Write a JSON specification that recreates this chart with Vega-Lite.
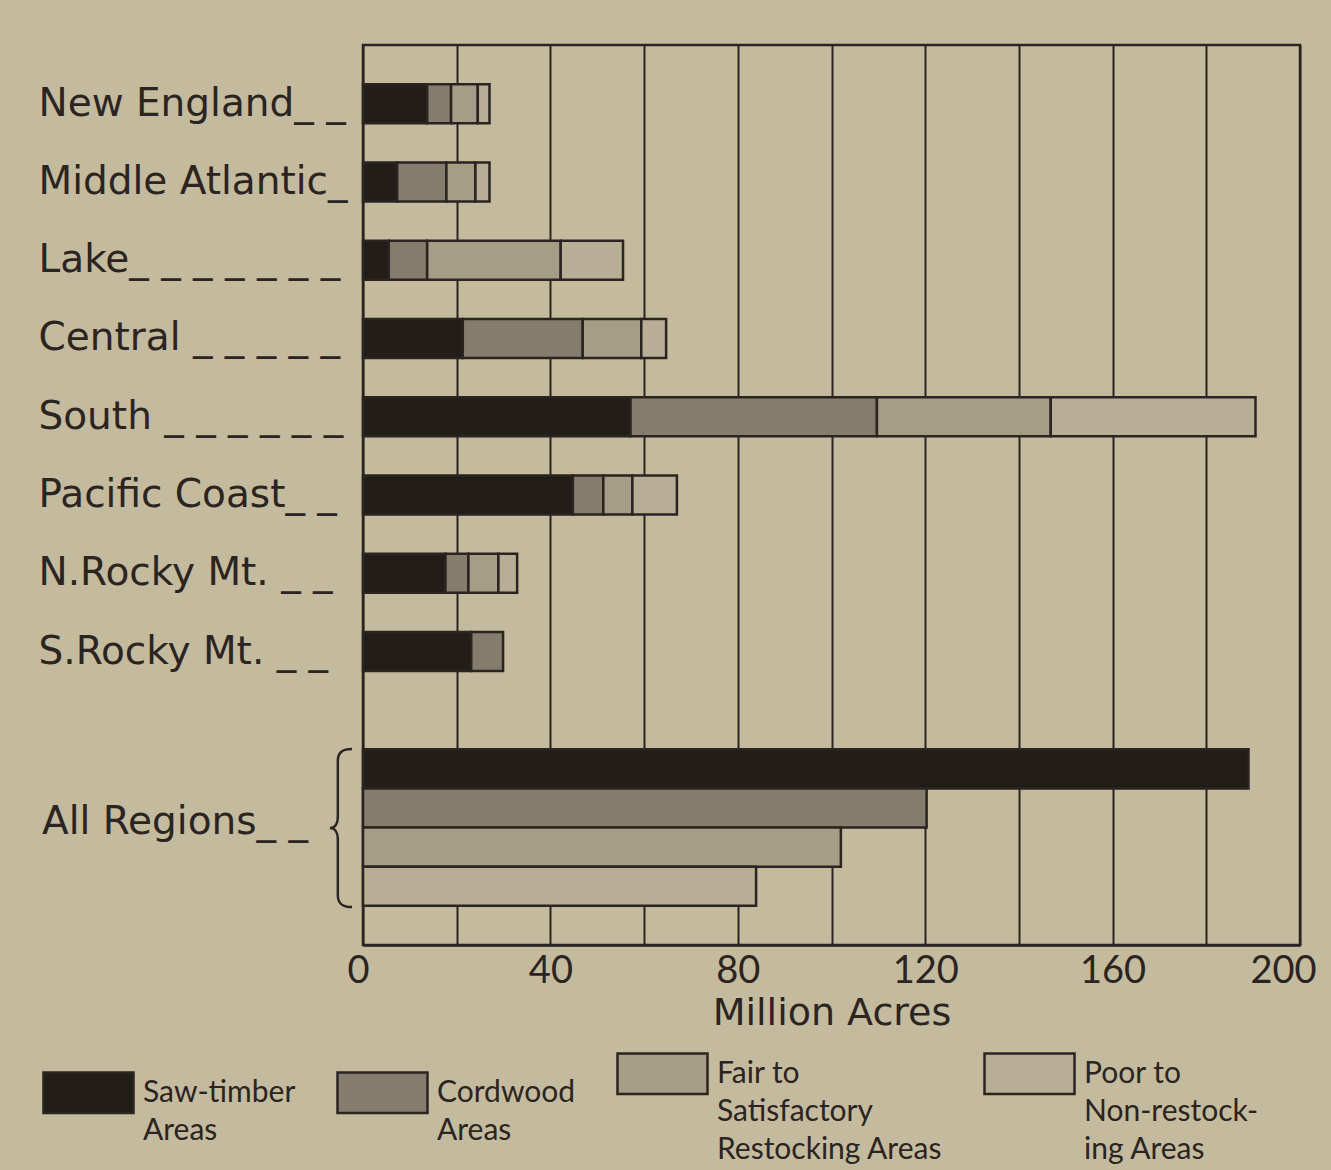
{
  "$schema": "https://vega.github.io/schema/vega-lite/v6.json",
  "width": 937,
  "height": 900,
  "autosize": "none",
  "padding": {"left": 363, "top": 45, "right": 31, "bottom": 225},
  "background": "#c4ba9e",
  "config": {
    "font": "DejaVu Sans",
    "view": {"stroke": "#2b2421", "strokeWidth": 2.5},
    "text": {"color": "#2b2421"},
    "style": {"guide-label": {"lineHeight": 38}}
  },
  "layer": [
    {
      "data": {
        "values": [
          {"row": "New England", "type": "Saw-timber Areas", "acres": 13.7},
          {"row": "New England", "type": "Cordwood Areas", "acres": 5.1},
          {"row": "New England", "type": "Fair to Satisfactory Restocking Areas", "acres": 5.7},
          {"row": "New England", "type": "Poor to Non-restocking Areas", "acres": 2.5},
          {"row": "Middle Atlantic", "type": "Saw-timber Areas", "acres": 7.3},
          {"row": "Middle Atlantic", "type": "Cordwood Areas", "acres": 10.5},
          {"row": "Middle Atlantic", "type": "Fair to Satisfactory Restocking Areas", "acres": 6.2},
          {"row": "Middle Atlantic", "type": "Poor to Non-restocking Areas", "acres": 3.0},
          {"row": "Lake", "type": "Saw-timber Areas", "acres": 5.5},
          {"row": "Lake", "type": "Cordwood Areas", "acres": 8.2},
          {"row": "Lake", "type": "Fair to Satisfactory Restocking Areas", "acres": 28.5},
          {"row": "Lake", "type": "Poor to Non-restocking Areas", "acres": 13.3},
          {"row": "Central", "type": "Saw-timber Areas", "acres": 21.3},
          {"row": "Central", "type": "Cordwood Areas", "acres": 25.6},
          {"row": "Central", "type": "Fair to Satisfactory Restocking Areas", "acres": 12.5},
          {"row": "Central", "type": "Poor to Non-restocking Areas", "acres": 5.3},
          {"row": "South", "type": "Saw-timber Areas", "acres": 57.1},
          {"row": "South", "type": "Cordwood Areas", "acres": 52.6},
          {"row": "South", "type": "Fair to Satisfactory Restocking Areas", "acres": 37.1},
          {"row": "South", "type": "Poor to Non-restocking Areas", "acres": 43.7},
          {"row": "Pacific Coast", "type": "Saw-timber Areas", "acres": 44.8},
          {"row": "Pacific Coast", "type": "Cordwood Areas", "acres": 6.5},
          {"row": "Pacific Coast", "type": "Fair to Satisfactory Restocking Areas", "acres": 6.2},
          {"row": "Pacific Coast", "type": "Poor to Non-restocking Areas", "acres": 9.5},
          {"row": "N. Rocky Mt.", "type": "Saw-timber Areas", "acres": 17.6},
          {"row": "N. Rocky Mt.", "type": "Cordwood Areas", "acres": 4.9},
          {"row": "N. Rocky Mt.", "type": "Fair to Satisfactory Restocking Areas", "acres": 6.4},
          {"row": "N. Rocky Mt.", "type": "Poor to Non-restocking Areas", "acres": 4.0},
          {"row": "S. Rocky Mt.", "type": "Saw-timber Areas", "acres": 23.1},
          {"row": "S. Rocky Mt.", "type": "Cordwood Areas", "acres": 6.8},
          {"row": "All Regions: Saw-timber", "type": "Saw-timber Areas", "acres": 189.0},
          {"row": "All Regions: Cordwood", "type": "Cordwood Areas", "acres": 120.3},
          {"row": "All Regions: Fair", "type": "Fair to Satisfactory Restocking Areas", "acres": 102.0},
          {"row": "All Regions: Poor", "type": "Poor to Non-restocking Areas", "acres": 83.9}
        ]
      },
      "transform": [
        {"calculate": "indexof(['Saw-timber Areas', 'Cordwood Areas', 'Fair to Satisfactory Restocking Areas', 'Poor to Non-restocking Areas'], datum.type)", "as": "stack_order"}
      ],
      "mark": {"type": "bar", "stroke": "#2b2421", "strokeWidth": 2.5},
      "encoding": {
        "x": {
          "field": "acres",
          "type": "quantitative",
          "stack": "zero",
          "scale": {"domain": [0, 200], "nice": false},
          "axis": {
            "values": [0, 20, 40, 60, 80, 100, 120, 140, 160, 180, 200],
            "labelExpr": "datum.value % 40 == 0 ? datum.label : ''",
            "grid": true,
            "gridColor": "#2b2421",
            "gridWidth": 2,
            "gridOpacity": 1,
            "ticks": false,
            "domainColor": "#2b2421",
            "domainWidth": 2.5,
            "labelFont": "Lato",
            "labelFontSize": 38,
            "labelColor": "#2b2421",
            "labelPadding": 7,
            "labelFlush": true,
            "labelFlushOffset": 16,
            "title": "Million Acres",
            "titleFont": "DejaVu Sans",
            "titleFontSize": 38,
            "titleFontWeight": "normal",
            "titleColor": "#2b2421",
            "titlePadding": 4
          }
        },
        "y": {
          "field": "row",
          "type": "nominal",
          "scale": {
            "domain": ["gap0", "New England", "gap1", "Middle Atlantic", "gap2", "Lake", "gap3", "Central", "gap4", "South", "gap5", "Pacific Coast", "gap6", "N. Rocky Mt.", "gap7", "S. Rocky Mt.", "gap8", "gap9", "All Regions: Saw-timber", "All Regions: Cordwood", "All Regions: Fair", "All Regions: Poor", "gap10"],
            "paddingInner": 0,
            "paddingOuter": 0
          },
          "axis": {
            "ticks": false,
            "domain": false,
            "title": null,
            "labelAlign": "left",
            "labelPadding": 325,
            "labelFont": "DejaVu Sans",
            "labelFontSize": 39,
            "labelColor": "#2b2421",
            "labelLimit": 0,
            "labelExpr": "datum.value == 'New England' ? 'New England_ _' : datum.value == 'Middle Atlantic' ? 'Middle Atlantic_' : datum.value == 'Lake' ? 'Lake_ _ _ _ _ _ _' : datum.value == 'Central' ? 'Central _ _ _ _ _' : datum.value == 'South' ? 'South _ _ _ _ _ _' : datum.value == 'Pacific Coast' ? 'Pacific Coast_ _' : datum.value == 'N. Rocky Mt.' ? 'N.Rocky Mt. _ _' : datum.value == 'S. Rocky Mt.' ? 'S.Rocky Mt. _ _' : ''"
          }
        },
        "order": {"field": "stack_order", "type": "quantitative"},
        "color": {
          "field": "type",
          "type": "nominal",
          "scale": {
            "domain": ["Saw-timber Areas", "Cordwood Areas", "Fair to Satisfactory Restocking Areas", "Poor to Non-restocking Areas"],
            "range": ["#231d1a", "#847c6d", "#a69d86", "#b7ae95"]
          },
          "legend": {
            "orient": "none",
            "legendX": -321,
            "legendY": 982,
            "direction": "horizontal",
            "columns": 4,
            "title": null,
            "symbolType": "M-1,-0.45L1,-0.45L1,0.45L-1,0.45Z",
            "symbolSize": 8100,
            "symbolStrokeColor": "#2b2421",
            "symbolStrokeWidth": 2.5,
            "symbolOpacity": 1,
            "labelFont": "Lato",
            "labelFontSize": 30,
            "labelColor": "#2b2421",
            "labelOffset": 8,
            "labelLimit": 0,
            "columnPadding": 36,
            "labelExpr": "datum.label == 'Saw-timber Areas' ? ['Saw-timber', 'Areas'] : datum.label == 'Cordwood Areas' ? ['Cordwood', 'Areas'] : datum.label == 'Fair to Satisfactory Restocking Areas' ? ['Fair to', 'Satisfactory', 'Restocking Areas'] : ['Poor to', 'Non-restock-', 'ing Areas']"
          }
        }
      }
    },
    {
      "data": {"values": [{"row": "All Regions: Cordwood", "label": "All Regions"}]},
      "mark": {"type": "text", "align": "left", "baseline": "middle", "font": "DejaVu Sans", "fontSize": 39, "xOffset": -321, "yOffset": 14, "text": "All Regions_ _"},
      "encoding": {
        "x": {"datum": 0, "type": "quantitative"},
        "y": {"field": "row", "type": "nominal"}
      }
    },
    {
      "data": {"values": [{"row": "All Regions: Cordwood", "label": "brace"}]},
      "mark": {
        "type": "point",
        "shape": "M0.14,-1C0.02,-1 -0.04,-0.96 -0.04,-0.85L-0.04,-0.14C-0.04,-0.05 -0.08,0 -0.14,0C-0.08,0 -0.04,0.05 -0.04,0.14L-0.04,0.85C-0.04,0.96 0.02,1 0.14,1",
        "size": 25000,
        "filled": false,
        "stroke": "#2b2421",
        "strokeWidth": 2.5,
        "opacity": 1,
        "xOffset": -22,
        "yOffset": 20
      },
      "encoding": {
        "x": {"datum": 0, "type": "quantitative"},
        "y": {"field": "row", "type": "nominal"}
      }
    }
  ]
}
